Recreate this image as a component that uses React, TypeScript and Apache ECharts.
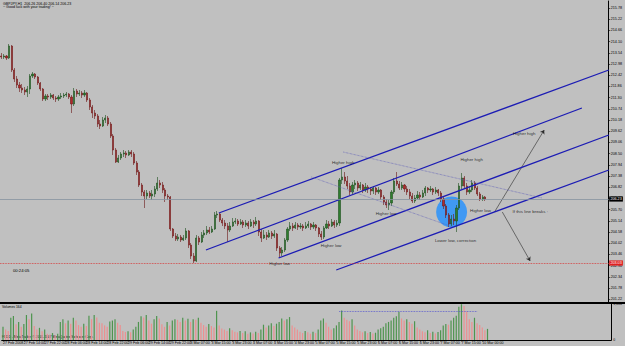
import { useEffect, useRef } from 'react';
import * as echarts from 'echarts';

// ---------- data ----------
const headerText = 'GBPJPY,H1  206.26 206.40 206.14 206.23';
const greetingText = '~ Good luck with your trading! ~';
const countdownText = '00:24:05';
const volumeTitle = 'Volumes 164';
const copyrightText = 'FXDD - MetaTrader, \u00a9 2001-2007 MetaQuotes Software Corp.';

const SLOTS = 234; // visible hourly slots (incl. empty right margin)
const timeLabels = [
  '27 Feb 2008', '27 Feb 14:00', '27 Feb 22:00', '28 Feb 06:00', '28 Feb 14:00', '28 Feb 22:00',
  '29 Feb 06:00', '29 Feb 14:00', '29 Feb 22:00', '3 Mar 07:00', '3 Mar 15:00', '3 Mar 23:00',
  '4 Mar 07:00', '4 Mar 15:00', '4 Mar 23:00', '5 Mar 07:00', '5 Mar 15:00', '5 Mar 23:00',
  '6 Mar 07:00', '6 Mar 15:00', '6 Mar 23:00', '7 Mar 07:00', '7 Mar 15:00', '10 Mar 00:00',
];

const firstOpen = 213.38;
const close = [
  213.33, 213.38, 213.28, 213.88, 212.68, 212.23, 211.93, 211.78, 211.68, 211.58,
  211.73, 212.38, 212.48, 212.33, 212.03, 211.73, 211.23, 211.38, 211.33, 211.43,
  211.28, 211.23, 211.33, 211.38, 211.43, 211.48, 211.33, 210.98, 211.63, 211.48,
  211.53, 211.43, 211.53, 211.18, 210.83, 210.53, 210.38, 209.98, 209.88, 210.18,
  210.28, 209.98, 209.38, 208.68, 208.08, 208.28, 208.48, 208.53, 208.43, 208.58,
  208.48, 208.03, 207.58, 206.93, 206.58, 206.38, 206.53, 206.38, 206.48, 206.73,
  207.03, 206.93, 206.68, 206.38, 206.33, 204.73, 204.38, 204.23, 204.33, 204.18,
  204.28, 204.63, 203.93, 203.38, 203.13, 204.28, 204.08, 204.43, 204.53, 204.68,
  204.58, 204.73, 205.43, 205.48, 205.18, 205.03, 204.88, 204.68, 204.88, 205.08,
  205.13, 204.98, 205.08, 204.93, 205.03, 204.88, 205.08, 204.98, 205.13, 204.58,
  204.28, 204.43, 204.33, 204.53, 204.38, 204.48, 203.78, 203.53, 203.68, 204.18,
  204.73, 204.88, 204.78, 204.93, 204.83, 204.88, 204.78, 204.88, 204.98, 204.83,
  204.93, 204.78, 204.48, 204.33, 204.78, 204.98, 204.88, 205.08, 204.93, 205.03,
  207.18, 207.33, 207.13, 206.88, 206.58, 206.93, 207.03, 206.78, 206.93, 206.68,
  206.83, 206.73, 206.63, 206.78, 206.58, 206.68, 206.33, 206.08, 205.93, 206.03,
  206.58, 207.13, 206.98, 206.78, 206.93, 206.73, 206.58, 206.38, 206.13, 206.28,
  206.43, 206.33, 206.53, 206.78, 206.68, 206.73, 206.58, 206.68, 206.53, 206.23,
  205.88, 205.43, 204.98, 205.23, 205.13, 205.78, 206.88, 207.28, 206.88, 206.58,
  206.68, 207.03, 206.78, 206.48, 206.23, 206.33, 206.23,
];
const high = [
  213.53, 213.48, 213.43, 213.98, 213.93, 212.78, 212.38, 212.08, 211.98, 211.83,
  211.88, 212.48, 212.58, 212.53, 212.38, 212.08, 211.78, 211.48, 211.48, 211.53,
  211.48, 211.38, 211.43, 211.53, 211.53, 211.58, 211.53, 211.43, 211.78, 211.73,
  211.68, 211.63, 211.68, 211.58, 211.28, 210.93, 210.68, 210.48, 210.18, 210.33,
  210.43, 210.38, 210.08, 209.48, 208.78, 208.43, 208.58, 208.68, 208.63, 208.68,
  208.68, 208.58, 208.13, 207.68, 207.03, 206.68, 206.68, 206.63, 206.68, 206.88,
  207.33, 207.18, 207.08, 206.78, 206.48, 206.38, 204.78, 204.53, 204.48, 204.43,
  204.43, 204.78, 204.68, 204.03, 203.53, 204.43, 204.38, 204.58, 204.68, 204.88,
  204.83, 204.88, 205.58, 205.63, 205.53, 205.28, 205.18, 205.03, 205.08, 205.28,
  205.28, 205.23, 205.23, 205.18, 205.18, 205.13, 205.23, 205.18, 205.33, 205.18,
  204.73, 204.68, 204.58, 204.68, 204.63, 204.68, 204.53, 203.88, 203.83, 204.28,
  204.83, 205.08, 205.03, 205.08, 205.03, 205.03, 204.98, 205.08, 205.13, 205.03,
  205.08, 204.98, 204.83, 204.63, 204.88, 205.18, 205.13, 205.23, 205.18, 205.18,
  207.28, 207.78, 207.58, 207.38, 207.03, 207.08, 207.18, 207.13, 207.08, 206.98,
  207.03, 206.93, 206.83, 206.88, 206.83, 206.83, 206.73, 206.43, 206.23, 206.18,
  206.68, 207.28, 207.58, 207.13, 207.08, 206.98, 206.88, 206.73, 206.53, 206.43,
  206.63, 206.58, 206.68, 206.88, 206.83, 206.88, 206.78, 206.83, 206.73, 206.63,
  206.33, 205.98, 205.53, 205.43, 205.48, 205.93, 207.03, 207.53, 207.38, 207.03,
  206.88, 207.18, 207.13, 206.88, 206.58, 206.43, 206.38,
];
const low = [
  213.23, 213.23, 213.18, 213.23, 212.58, 212.08, 211.78, 211.58, 211.53, 211.43,
  211.33, 211.48, 212.28, 212.23, 211.93, 211.63, 211.13, 211.13, 211.18, 211.23,
  211.18, 211.08, 211.13, 211.23, 211.28, 211.33, 211.23, 210.53, 210.88, 211.33,
  211.38, 211.28, 211.33, 211.08, 210.68, 210.28, 210.23, 209.83, 209.73, 209.83,
  210.03, 209.88, 209.28, 208.43, 208.03, 208.03, 208.18, 208.33, 208.28, 208.38,
  208.33, 207.93, 207.43, 206.83, 206.38, 205.78, 206.23, 206.28, 206.18, 206.33,
  206.63, 206.78, 206.53, 206.08, 206.18, 204.63, 204.28, 204.13, 204.13, 204.08,
  204.13, 204.18, 203.78, 203.23, 203.03, 203.08, 203.93, 204.03, 204.28, 204.43,
  204.48, 204.53, 204.68, 205.28, 205.08, 204.88, 204.73, 204.08, 204.58, 204.83,
  204.98, 204.88, 204.93, 204.78, 204.83, 204.73, 204.83, 204.78, 204.88, 204.38,
  204.08, 204.23, 204.18, 204.28, 204.23, 204.28, 203.63, 203.28, 203.38, 203.58,
  204.08, 204.63, 204.63, 204.73, 204.68, 204.73, 204.63, 204.73, 204.78, 204.68,
  204.73, 204.63, 204.33, 204.18, 204.23, 204.73, 204.73, 204.83, 204.78, 204.83,
  204.88, 206.98, 206.98, 206.73, 206.43, 206.48, 206.73, 206.63, 206.68, 206.53,
  206.58, 206.53, 206.43, 206.48, 206.43, 206.48, 206.18, 205.93, 205.78, 205.68,
  205.88, 206.48, 206.88, 206.68, 206.68, 206.58, 206.43, 206.23, 206.03, 206.03,
  206.23, 206.18, 206.28, 206.38, 206.53, 206.58, 206.43, 206.48, 206.38, 206.08,
  205.73, 205.28, 204.83, 204.88, 204.93, 204.58, 205.68, 206.73, 206.73, 206.43,
  206.48, 206.58, 206.68, 206.38, 206.13, 206.13, 206.13,
];
const volume = [
  380, 300, 260, 640, 690, 450, 520, 380, 460, 720,
  600, 760, 400, 300, 350, 250, 300, 180, 160, 200,
  140, 180, 520, 600, 480, 560, 470, 640, 560, 430,
  380, 470, 400, 700, 600, 720, 650, 500, 480, 420,
  380, 530, 560, 600, 500, 430, 260, 230, 250, 220,
  300, 380, 520, 680, 650, 720, 560, 470, 600, 690,
  620, 450, 380, 520, 420, 560, 600, 580, 520, 640,
  560, 610, 520, 600, 580, 640, 500, 430, 380, 460,
  400, 360, 840, 420, 330, 300, 260, 340, 280, 240,
  220, 260, 200, 250, 180, 220, 190, 240, 200, 300,
  440, 360, 420, 480, 400, 470, 520, 620, 560, 600,
  660, 420, 360, 300, 240, 200, 260, 220, 180, 240,
  200, 300, 560, 620, 500, 380, 300, 340, 420, 520,
  850, 640, 580, 540, 600, 420, 300, 260, 220, 250,
  200, 230, 190, 210, 300, 340, 380, 480, 520, 560,
  640, 680, 810, 620, 560, 600, 520, 470, 540, 360,
  300, 250, 220, 280, 200, 240, 190, 230, 280, 420,
  460, 440, 560, 640, 700, 960, 1030, 980, 820, 600,
  520, 640, 480, 430, 360, 280, 320,
];

const priceTicks = [
  215.78, 215.22, 214.66, 214.10, 213.54, 212.98, 212.42, 211.86, 211.30, 210.74,
  210.18, 209.62, 209.06, 208.50, 207.94, 207.38, 206.82, 206.26, 205.70, 205.14,
  204.58, 204.02, 203.46, 202.90, 202.34, 201.78, 201.22,
];
const volumeTicks = [0, 1036];
const bidPrice = 206.23;
const levelPrice = 203.03;
const volumeLevel = 817;
const volumeLevelFrom = 129;
const volumeLevelTo = 182;

// annotation objects in (bar index, price) space
const channelLines = [
  [[83.63, 205.53], [233.54, 212.68]],
  [[78.66, 203.68], [223.2, 210.78]],
  [[106.58, 203.28], [233.54, 209.43]],
  [[128.76, 202.68], [233.54, 207.68]],
];
const dottedLines = [
  [[131.43, 208.58], [207.92, 206.28]],
  [[119.2, 207.33], [173.5, 204.83]],
];
const arrowLines = [
  [[189.6, 205.58], [208.7, 209.68]],
  [[192.6, 205.58], [203.3, 203.13]],
];
const circleCenter = [173.1, 205.58];
const notes = [
  { text: 'Higher high', at: [131.4, 208.08] },
  { text: 'Higher low', at: [126.8, 203.93] },
  { text: 'Higher low', at: [107.0, 203.03] },
  { text: 'Higher low', at: [147.9, 205.53] },
  { text: 'Higher high', at: [180.8, 208.23] },
  { text: 'Higher low', at: [184.2, 205.68] },
  { text: 'If this line breaks :', at: [203.3, 205.63] },
  { text: 'Lower low, correction', at: [174.6, 204.18] },
  { text: 'Higher high', at: [201.0, 209.53] },
];

// ---------- chart ----------
const FONT = 'Arial, "Liberation Sans", sans-serif';
const BG = '#c0c0c0';
const BLUE = '#1c1cb4';

export default function App() {
  const ref = useRef<HTMLDivElement>(null);

  useEffect(() => {
    document.body.style.margin = '0';
    const chart = echarts.init(ref.current!, undefined, { renderer: 'svg' });
    const cats = Array.from({ length: SLOTS }, (_, i) => String(i));
    const open = [firstOpen, ...close.slice(0, -1)];
    const candleData = close.map((c, i) => [open[i], c, low[i], high[i]]);
    const volData = volume.map((v, i) => ({
      value: v,
      itemStyle: { color: i === 0 || v > volume[i - 1] ? '#4e944e' : '#ec9090' },
    }));

    const lineSeries = (pts: number[][], color: string, type: string, width: number) => ({
      type: 'line',
      xAxisIndex: 2,
      yAxisIndex: 0,
      data: pts,
      symbol: 'none',
      silent: true,
      z: 4,
      lineStyle: { color, type, width },
    });

    const option: any = {
      animation: false,
      backgroundColor: BG,
      textStyle: { fontFamily: FONT },
      grid: [
        { left: 0, top: 1, width: 612, height: 301 },
        { left: 0, top: 304, width: 612, height: 36 },
      ],
      xAxis: [
        {
          type: 'category', gridIndex: 0, data: cats, boundaryGap: true,
          axisLine: { show: false }, axisTick: { show: false }, axisLabel: { show: false },
          splitLine: { show: false },
        },
        {
          type: 'category', gridIndex: 1, data: cats, boundaryGap: true,
          axisLine: { show: true, lineStyle: { color: '#000', width: 1 } },
          axisTick: {
            show: true, alignWithLabel: true, length: 1.5, lineStyle: { color: '#000', width: 0.6 },
            interval: (i: number) => i % 8 === 0 && i / 8 < timeLabels.length,
          },
          axisLabel: {
            show: true, fontSize: 3.6, color: '#000', margin: 1.2, align: 'left',
            interval: (i: number) => i % 8 === 0 && i / 8 < timeLabels.length,
            formatter: (_v: string, i: number) => timeLabels[i / 8] ?? '',
          },
          splitLine: { show: false },
        },
        { type: 'value', gridIndex: 0, min: -0.5, max: SLOTS - 0.5, show: false },
      ],
      yAxis: [
        {
          type: 'value', gridIndex: 0, position: 'right', min: 201.08, max: 216.13,
          axisLine: { show: true, onZero: false, lineStyle: { color: '#000', width: 1 } },
          axisTick: { show: true, length: 1.5, customValues: priceTicks, lineStyle: { color: '#000', width: 0.6 } },
          axisLabel: {
            show: true, fontSize: 3.7, color: '#000', margin: 2, customValues: priceTicks,
            formatter: (v: number) => v.toFixed(2),
          },
          splitLine: { show: false },
        },
        {
          type: 'value', gridIndex: 1, position: 'right', min: 0, max: 1036,
          axisLine: { show: true, onZero: false, lineStyle: { color: '#000', width: 1 } },
          axisTick: { show: false },
          axisLabel: { show: true, fontSize: 3.5, color: '#000', margin: 2, customValues: volumeTicks },
          splitLine: { show: false },
        },
      ],
      series: [
        {
          type: 'scatter', xAxisIndex: 2, yAxisIndex: 0, silent: true, z: 1,
          data: [circleCenter], symbol: 'circle', symbolSize: 31,
          itemStyle: { color: '#1f8fff' },
        },
        {
          type: 'candlestick', xAxisIndex: 0, yAxisIndex: 0, z: 3, silent: true,
          data: candleData, barWidth: 1.6,
          itemStyle: {
            color: '#2e7d2e', color0: '#b52a2a',
            borderColor: '#1d4f1d', borderColor0: '#6a1616', borderWidth: 0.6,
          },
          markLine: {
            silent: true, symbol: 'none', animation: false,
            data: [
              {
                yAxis: bidPrice,
                lineStyle: { color: '#8793a0', type: 'solid', width: 0.8 },
                label: {
                  show: true, position: 'end', distance: 0.5, formatter: bidPrice.toFixed(2),
                  backgroundColor: '#000', color: '#fff', fontSize: 3.7, padding: [0.6, 1.2],
                },
              },
              {
                yAxis: levelPrice,
                lineStyle: { color: '#d83030', type: 'dotted', width: 0.8 },
                label: {
                  show: true, position: 'end', distance: 0.5, formatter: levelPrice.toFixed(2),
                  backgroundColor: '#e02020', color: '#fff', fontSize: 3.7, padding: [0.6, 1.2],
                },
              },
            ],
          },
        },
        ...channelLines.map((l) => lineSeries(l, BLUE, 'solid', 1.3)),
        ...dottedLines.map((l) => lineSeries(l, '#5a5ab8', 'dotted', 0.7)),
        {
          type: 'lines', coordinateSystem: 'cartesian2d', xAxisIndex: 2, yAxisIndex: 0,
          silent: true, z: 4, symbol: ['none', 'arrow'], symbolSize: 4,
          lineStyle: { color: '#2a2a2a', width: 0.6, opacity: 1 },
          data: arrowLines.map((c) => ({ coords: c })),
        },
        {
          type: 'scatter', xAxisIndex: 2, yAxisIndex: 0, silent: true, z: 5,
          symbolSize: 0,
          data: notes.map((n) => ({ value: n.at, name: n.text })),
          label: {
            show: true, position: 'inside', formatter: '{b}', color: '#000',
            fontSize: 4.4, fontFamily: FONT,
          },
        },
        {
          type: 'bar', xAxisIndex: 1, yAxisIndex: 1, silent: true,
          data: volData, barWidth: 1.2,
          markLine: {
            silent: true, symbol: 'none', animation: false, label: { show: false },
            lineStyle: { color: '#5050d0', type: 'dotted', width: 0.8 },
            data: [[{ coord: [volumeLevelFrom, volumeLevel] }, { coord: [volumeLevelTo, volumeLevel] }]],
          },
        },
      ],
      graphic: [
        { type: 'rect', left: 0, top: 302, shape: { width: 625, height: 2 }, style: { fill: '#000' }, silent: true },
        { type: 'text', left: 3, top: 1.5, style: { text: headerText, fontSize: 3.6, fill: '#000', fontFamily: FONT } },
        { type: 'text', left: 3, top: 5, style: { text: greetingText, fontSize: 3.6, fill: '#000', fontFamily: FONT } },
        { type: 'text', left: 13, top: 268.5, style: { text: countdownText, fontSize: 4.2, fill: '#000', fontFamily: FONT } },
        { type: 'text', left: 2, top: 305, style: { text: volumeTitle, fontSize: 3.4, fill: '#000', fontFamily: FONT } },
        { type: 'text', left: 2, top: 335, style: { text: copyrightText, fontSize: 3.3, fill: '#000', fontFamily: FONT } },
      ],
    };
    chart.setOption(option);
    return () => chart.dispose();
  }, []);

  return (
    <div style={{ position: 'fixed', left: 0, top: 0, width: 625, height: 346, background: BG }}>
      <div ref={ref} style={{ width: 625, height: 346 }} />
    </div>
  );
}
